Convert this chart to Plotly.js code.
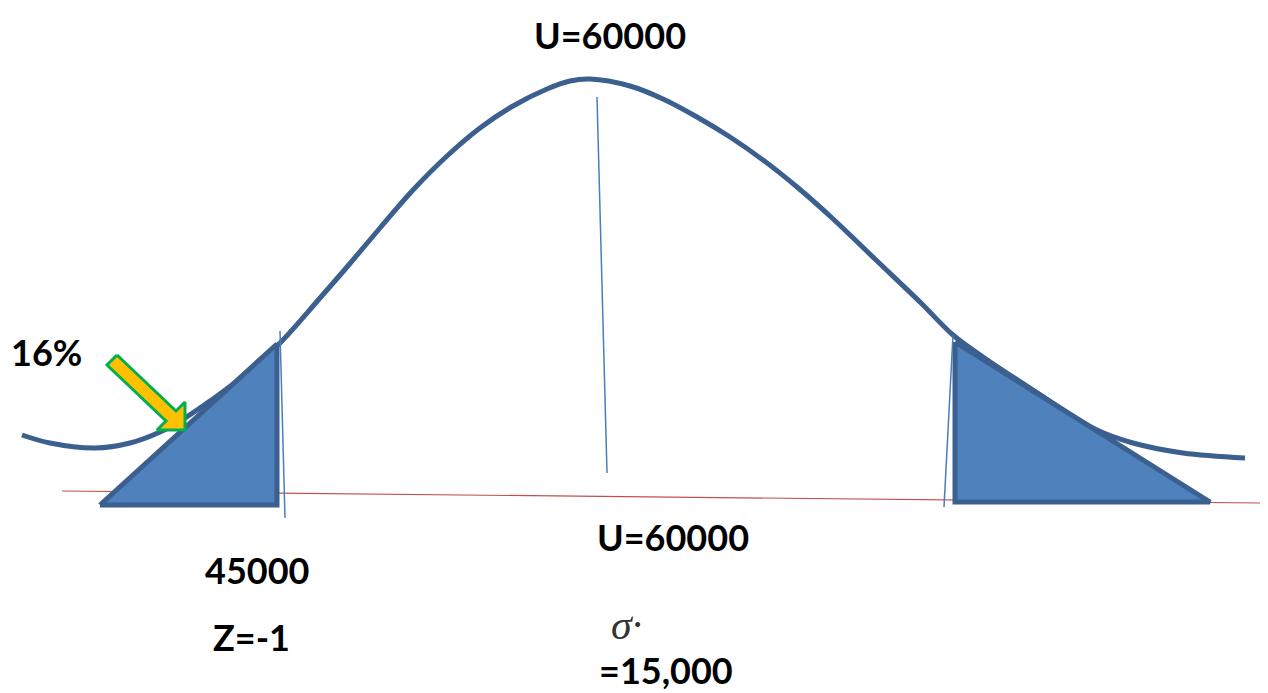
<!DOCTYPE html>
<html>
<head>
<meta charset="utf-8">
<script src="https://cdn.plot.ly/plotly-3.0.1.min.js"></script>
<style>html,body{margin:0;padding:0;background:#fff;}#chart{width:1268px;height:693px;}</style>
</head>
<body>
<div id="chart"></div>
<script>
// Drawing coordinates (x to the right, y downward)
const curveX = [22, 50, 95, 130, 160, 185, 210, 245, 280, 320, 347, 380, 413, 447, 480, 513, 547, 570, 590, 630, 663, 697, 730, 763, 797, 831, 876, 921, 953, 983, 1033, 1097, 1133, 1183, 1245];
const curveY = [435, 443, 448, 443, 432, 418, 401, 375, 343, 298, 267, 228, 190, 156, 128, 106, 89, 81, 79, 86, 99, 117, 137, 160, 187, 217, 260, 303, 335, 357, 390, 430, 443, 453, 458];

const leftTailX = [100, 277, 277, 100];
const leftTailY = [505, 344, 505, 505];
const rightTailX = [955, 955, 1210, 955];
const rightTailY = [342, 502, 502, 342];

const baseLineX = [62, 1260];
const baseLineY = [491, 503];

const markLeftX = [280, 285];
const markLeftY = [331, 518];
const markMeanX = [597, 607];
const markMeanY = [97, 473];
const markRightX = [953, 944];
const markRightY = [335, 507];

const arrowX = [117, 176, 185, 185, 157, 166, 107, 117];
const arrowY = [355, 411, 402, 430, 430, 421, 365, 355];

const labelText = ["U=60000", "16%", "45000", "Z=-1", "U=60000", "=15,000"];
const labelX = [610, 46, 257, 251, 673, 666];
const labelY = [35, 352, 570, 637, 537, 670];

const sigmaText = "σ";
const sigmaX = 626;
const sigmaY = 625;

const thin = (x, y, color, w) => ({x, y, type: 'scatter', mode: 'lines', line: {color, width: w}, hoverinfo: 'skip', showlegend: false});

const traces = [
  thin(baseLineX, baseLineY, '#c0504d', 1.2),
  thin(markMeanX, markMeanY, '#4a7ebb', 1.5),
  {x: curveX, y: curveY, type: 'scatter', mode: 'lines', line: {color: '#3b5f8f', width: 5, shape: 'spline', smoothing: 1}, hoverinfo: 'skip', showlegend: false},
  {x: leftTailX, y: leftTailY, type: 'scatter', mode: 'lines', fill: 'toself', fillcolor: '#4f81bd', line: {color: '#3b5f8f', width: 5}, hoverinfo: 'skip', showlegend: false},
  {x: rightTailX, y: rightTailY, type: 'scatter', mode: 'lines', fill: 'toself', fillcolor: '#4f81bd', line: {color: '#3b5f8f', width: 5}, hoverinfo: 'skip', showlegend: false},
  thin(markLeftX, markLeftY, '#4a7ebb', 1.5),
  thin(markRightX, markRightY, '#4a7ebb', 1.5),
  {x: arrowX, y: arrowY, type: 'scatter', mode: 'lines', fill: 'toself', fillcolor: '#ffc000', line: {color: '#00b050', width: 3}, hoverinfo: 'skip', showlegend: false}
];

const annotations = labelText.map((t, i) => ({
  x: labelX[i], y: labelY[i], xref: 'x', yref: 'y', text: t, showarrow: false,
  xanchor: 'center', yanchor: 'middle',
  font: {family: 'Lato, "Open Sans", sans-serif', size: 36, weight: 700, color: '#000'}
}));
annotations.push({
  x: sigmaX, y: sigmaY, xref: 'x', yref: 'y', text: sigmaText + '·', showarrow: false,
  xanchor: 'center', yanchor: 'middle',
  font: {family: '"Liberation Serif", serif', size: 42, style: 'italic', color: '#333'}
});

const layout = {
  width: 1268, height: 693,
  margin: {l: 0, r: 0, t: 0, b: 0},
  paper_bgcolor: '#ffffff', plot_bgcolor: '#ffffff',
  showlegend: false,
  xaxis: {range: [0, 1268], visible: false, fixedrange: true},
  yaxis: {range: [693, 0], visible: false, fixedrange: true},
  annotations
};

Plotly.newPlot('chart', traces, layout, {displayModeBar: false, staticPlot: true});
</script>
</body>
</html>
